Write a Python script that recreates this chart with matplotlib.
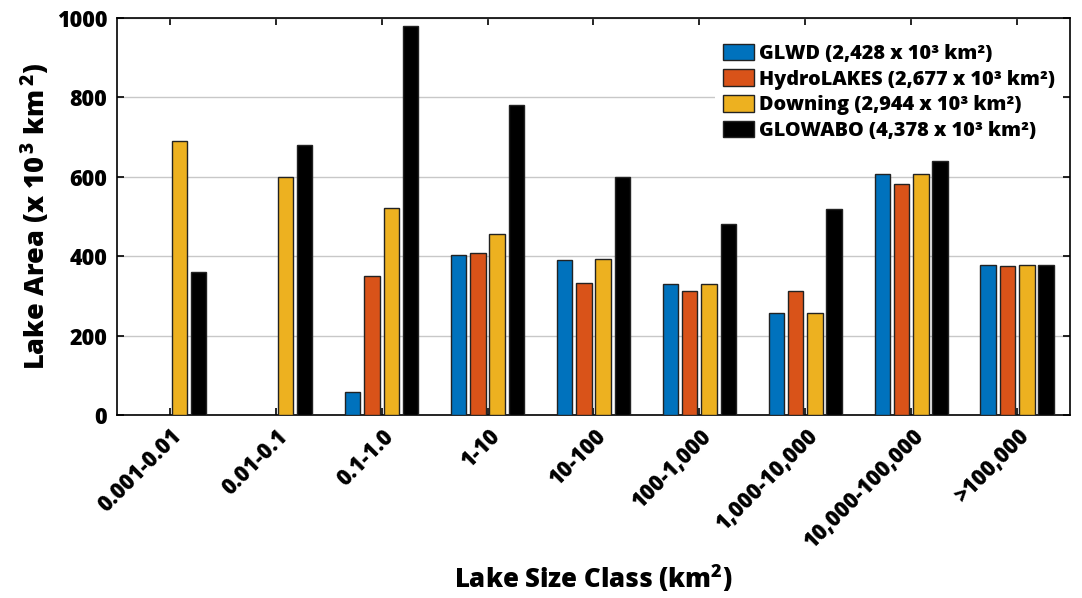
import numpy as np
import matplotlib.pyplot as plt

# Lake area by size class (x 10^3 km^2)
size_classes = ["0.001-0.01", "0.01-0.1", "0.1-1.0", "1-10", "10-100",
                "100-1,000", "1,000-10,000", "10,000-100,000", ">100,000"]
glwd = [0, 0, 59, 403, 390, 330, 258, 607, 377]
hydrolakes = [0, 0, 350, 409, 332, 313, 313, 582, 376]
downing = [691, 600, 522, 455, 393, 330, 258, 607, 377]
glowabo = [360, 680, 980, 780, 600, 481, 520, 640, 377]

series_labels = ["GLWD (2,428 x 10³ km²)", "HydroLAKES (2,677 x 10³ km²)",
                 "Downing (2,944 x 10³ km²)", "GLOWABO (4,378 x 10³ km²)"]
colors = ["#0072BD", "#D95319", "#EDB120", "#000000"]

plt.rcParams["font.family"] = ["Open Sans", "DejaVu Sans"]
plt.rcParams["font.weight"] = "heavy"
plt.rcParams["mathtext.fontset"] = "custom"
plt.rcParams["mathtext.rm"] = "Open Sans:heavy"
plt.rcParams["mathtext.bf"] = "Open Sans:heavy"

fig = plt.figure(figsize=(10.82, 5.98), dpi=100)
ax = fig.add_axes([0.108, 0.306, 0.881, 0.664])

x = np.arange(len(size_classes))
step = 0.182
width = 0.146
for i, (vals, lab, col) in enumerate(zip([glwd, hydrolakes, downing, glowabo],
                                         series_labels, colors)):
    ax.bar(x + (i - 1.5) * step, vals, width, color=col, edgecolor="#222222",
           linewidth=1.0, label=lab, zorder=3)

ax.set_xlim(-0.5, 8.5)
ax.set_ylim(0, 1000)
ax.set_yticks([0, 200, 400, 600, 800, 1000])
ax.set_xticks(x)
ax.set_xticklabels(size_classes, rotation=45, ha="right", rotation_mode="anchor",
                   fontsize=15.5, fontweight="heavy")
ax.tick_params(axis="y", labelsize=15.5)
ax.tick_params(direction="in", length=5, width=1.2, top=True, right=True, pad=7)
ax.grid(axis="y", color="#c8c8c8", linewidth=1.0, zorder=0)
for sp in ax.spines.values():
    sp.set_linewidth(1.2)

ax.set_xlabel(r"Lake Size Class (km$^{2}$)", fontsize=18.5, fontweight="heavy", labelpad=6)
ax.set_ylabel(r"Lake Area (x 10$^{\,3}$ km$^{\,2}$)", fontsize=19.5, fontweight="heavy",
              labelpad=3)

leg = ax.legend(loc="upper right", bbox_to_anchor=(0.997, 0.965), frameon=True,
                fontsize=14.3, handlelength=1.6, handleheight=0.9, handletextpad=0.25,
                labelspacing=0.28, borderaxespad=0.2)
leg.get_frame().set_edgecolor("none")
leg.get_frame().set_facecolor("white")
leg.get_frame().set_alpha(1.0)
for t in leg.get_texts():
    t.set_fontweight("heavy")

fig.savefig("out.png", dpi=100)
